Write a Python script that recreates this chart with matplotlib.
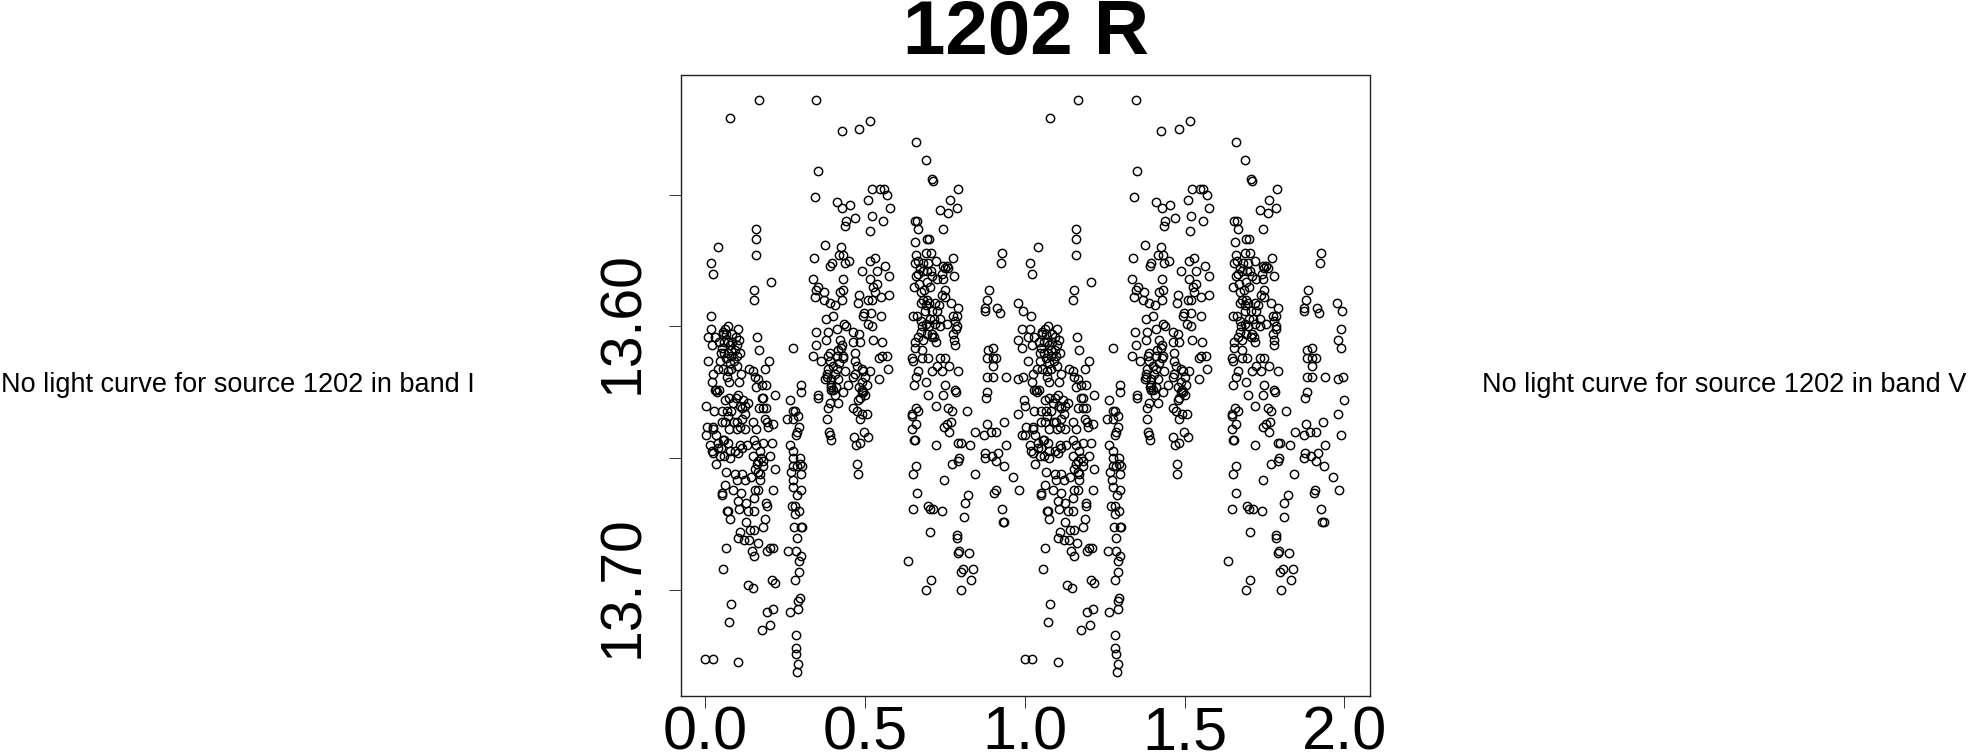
"""
Phase-folded R band light curve for source 1202, plotted over two cycles.
"""

import numpy as np
import matplotlib
matplotlib.use('Agg')
import matplotlib.pyplot as plt
from matplotlib.transforms import ScaledTranslation

plt.rcParams['font.family'] = ['Liberation Sans', 'DejaVu Sans']

source = '1202'
band = 'R'
missing_bands = ['I', 'V']

# first clump, phase 0 to 0.3
phase_a = [.168,.078,.040,.017,.023,.160,.160,.160,.206,.154,.152,.018,.017,.072,.101,.062,.010,.163,.030,.106,.054,.044,.022,.169,.077,.051,.072,.109,.093,.048,.009,.200,.082,.046,.077,.187,.137,.039,.082,.112,.025,.150,.155,.075,.106,.022,.166,.190,.176,.159,.035,.276,.299]
mag_a = [13.514,13.521,13.570,13.576,13.580,13.563,13.567,13.573,13.583,13.586,13.590,13.596,13.601,13.600,13.601,13.601,13.604,13.604,13.604,13.605,13.603,13.606,13.607,13.609,13.607,13.608,13.610,13.610,13.609,13.610,13.613,13.613,13.611,13.613,13.614,13.616,13.616,13.616,13.616,13.618,13.618,13.617,13.619,13.621,13.621,13.621,13.620,13.622,13.622,13.623,13.624,13.608,13.622]

phase_b = [.218,.265,.299,.030,.044,.038,.176,.182,.075,.103,.119,.135,.001,.062,.088,.028,.051,.067,.082,.114,.124,.168,.182,.190,.275,.281,.291,.257,.275,.004,.025,.062,.051,.098,.114,.150,.187,.194,.213,.293,.197,.075,.100,.125,.159,.025,.286,.283,.001,.033,.015,.056,.072,.152,.182,.208,.109,.265,.041,.020,.077,.093,.114,.025,.046,.103,.150,.171,.202,.275,.077,.166,.182,.275,.296,.032,.161,.182,.218,.275,.286,.296,.302,.267,.065,.093,.114,.155,.171,.298]
mag_b = [13.626,13.628,13.625,13.624,13.624,13.625,13.627,13.627,13.627,13.626,13.628,13.629,13.630,13.628,13.629,13.632,13.632,13.632,13.632,13.631,13.633,13.631,13.631,13.631,13.632,13.632,13.634,13.635,13.635,13.638,13.638,13.636,13.636,13.636,13.635,13.636,13.635,13.636,13.637,13.638,13.638,13.639,13.639,13.639,13.639,13.639,13.640,13.641,13.641,13.641,13.645,13.643,13.644,13.643,13.644,13.644,13.645,13.645,13.646,13.647,13.647,13.647,13.646,13.648,13.649,13.648,13.649,13.647,13.649,13.647,13.650,13.651,13.651,13.650,13.650,13.652,13.652,13.653,13.654,13.653,13.653,13.652,13.653,13.655,13.655,13.656,13.656,13.654,13.656,13.656]

phase_c = [.098,.124,.142,.171,.273,.062,.275,.088,.213,.299,.051,.051,.112,.155,.166,.152,.288,.103,.126,.190,.192,.270,.281,.106,.072,.069,.135,.152,.294,.281,.077,.187,.127,.279,.298,.302,.140,.153,.182,.109,.286,.103,.122,.138,.164,.064,.211,.202,.194,.145,.153,.260,.284,.298,.293,.056,.293,.281,.208,.218,.133,.148,.296,.291,.080,.213,.291,.194,.265,.074,.204,.176,.283,.283,.284,.000,.023,.103,.291,.288]
mag_c = [13.658,13.658,13.657,13.658,13.658,13.660,13.661,13.662,13.662,13.662,13.663,13.664,13.663,13.662,13.662,13.665,13.664,13.666,13.667,13.667,13.668,13.668,13.668,13.669,13.670,13.670,13.670,13.670,13.670,13.671,13.673,13.673,13.674,13.676,13.676,13.676,13.677,13.677,13.676,13.678,13.680,13.680,13.681,13.681,13.682,13.684,13.684,13.684,13.685,13.685,13.687,13.685,13.685,13.687,13.689,13.692,13.693,13.696,13.696,13.697,13.698,13.699,13.703,13.704,13.705,13.707,13.707,13.708,13.708,13.712,13.713,13.715,13.717,13.722,13.724,13.726,13.726,13.727,13.728,13.731]

# second clump, phase 0.33 to 0.58
phase_d = [.347,.427,.482,.516,.352,.342,.412,.429,.454,.522,.547,.558,.570,.510,.577,.521,.469,.439,.436,.557,.516,.376,.425,.340,.417,.432,.451,.437,.396,.391,.515,.531,.563,.489,.536,.575,.336,.430,.515,.536,.354,.348,.372,.432,.421,.526,.480,.576,.531,.342,.371,.390,.406,.429,.477,.510,.521,.551,.378,.401,.497,.520,.550,.495]
mag_d = [13.514,13.526,13.525,13.522,13.541,13.551,13.553,13.555,13.554,13.548,13.548,13.548,13.550,13.552,13.555,13.558,13.559,13.560,13.562,13.560,13.564,13.569,13.570,13.574,13.573,13.573,13.575,13.576,13.576,13.577,13.575,13.574,13.577,13.579,13.579,13.581,13.582,13.582,13.582,13.584,13.585,13.586,13.587,13.586,13.587,13.585,13.588,13.588,13.587,13.589,13.590,13.591,13.592,13.590,13.591,13.590,13.590,13.589,13.597,13.596,13.595,13.595,13.596,13.596]

phase_e = [.411,.434,.439,.509,.521,.345,.383,.463,.481,.379,.421,.524,.348,.463,.484,.554,.429,.425,.390,.336,.385,.411,.432,.468,.552,.568,.544,.361,.468,.474,.383,.411,.489,.571,.380,.437,.515,.468,.495,.380,.395,.416,.544,.448,.463,.492,.392,.352,.352,.416,.390,.383,.381,.432,.495,.500,.479,.463,.474,.492,.507,.484,.387,.390,.393,.498,.510,.465,.484,.471,.476,.477,.401,.406,.489,.484,.395]
mag_e = [13.601,13.599,13.600,13.599,13.600,13.602,13.602,13.602,13.603,13.605,13.605,13.605,13.607,13.606,13.606,13.606,13.607,13.608,13.610,13.611,13.611,13.611,13.611,13.610,13.611,13.611,13.612,13.613,13.613,13.615,13.616,13.616,13.616,13.616,13.618,13.617,13.617,13.618,13.617,13.619,13.620,13.620,13.620,13.622,13.619,13.624,13.623,13.626,13.627,13.629,13.629,13.631,13.635,13.625,13.625,13.626,13.628,13.631,13.632,13.633,13.633,13.635,13.640,13.641,13.643,13.640,13.642,13.642,13.644,13.645,13.652,13.656,13.624,13.626,13.625,13.627,13.624]

# third clump, phase 0.63 to 0.83
phase_f = [.660,.690,.708,.712,.790,.765,.736,.787,.761,.655,.664,.666,.745,.657,.693,.701,.661,.690,.705,.774,.655,.682,.698,.722,.745,.755,.750,.667,.661,.695,.779,.724,.745,.693,.653,.703,.750,.674,.740,.750,.680,.693,.674,.769,.792,.651,.664,.688,.708,.724,.776,.787,.703,.735,.719,.755,.787,.677,.674,.693,.776,.667,.708,.716,.656,.779,.721,.781,.656,.679,.648,.679,.696,.735,.750,.651,.764,.724,.710,.740,.792,.667,.661,.652,.692,.750,.781]
mag_f = [13.530,13.537,13.544,13.545,13.548,13.552,13.556,13.555,13.557,13.560,13.560,13.563,13.563,13.568,13.567,13.567,13.573,13.572,13.572,13.574,13.576,13.576,13.576,13.575,13.577,13.577,13.578,13.580,13.581,13.579,13.581,13.582,13.582,13.583,13.585,13.585,13.586,13.587,13.588,13.589,13.590,13.590,13.591,13.591,13.593,13.596,13.596,13.594,13.594,13.594,13.596,13.596,13.597,13.597,13.599,13.599,13.600,13.600,13.602,13.603,13.603,13.604,13.604,13.604,13.606,13.605,13.606,13.607,13.608,13.609,13.612,13.612,13.612,13.612,13.612,13.613,13.615,13.615,13.617,13.617,13.617,13.617,13.619,13.622,13.621,13.622,13.624]

phase_g = [.698,.721,.745,.784,.659,.667,.648,.648,.761,.771,.768,.661,.747,.755,.648,.764,.653,.656,.721,.792,.799,.795,.792,.771,.661,.651,.747,.662,.696,.703,.714,.741,.649,.704,.787,.787,.795,.792,.635,.705,.692]
mag_g = [13.626,13.630,13.626,13.625,13.631,13.632,13.633,13.634,13.631,13.632,13.636,13.637,13.638,13.637,13.639,13.640,13.643,13.643,13.645,13.644,13.644,13.650,13.651,13.652,13.653,13.656,13.658,13.663,13.668,13.669,13.669,13.670,13.669,13.678,13.679,13.680,13.685,13.686,13.689,13.696,13.700]

# sparse points, phase 0.8 to 1
phase_h = [.818,.881,.845,.873,.893,.910,.829,.876,.917,.896,.875,.910,.844,.823,.909,.905,.812,.810,.826,.808,.799,.839,.832,.801,.883,.877,.887,.881,.874,.874,.914,.921,.928,.925,.978,.993,.991,.980,.990,.900,.884,.882,.899,.910,.900,.882,.899,.941,.980,.995,.999,.979,.934,.990,.941,.936,.964,.982,.928,.931,.936]
mag_h = [13.632,13.637,13.640,13.641,13.640,13.640,13.645,13.648,13.648,13.649,13.650,13.651,13.656,13.664,13.662,13.663,13.667,13.672,13.686,13.692,13.693,13.692,13.696,13.700,13.625,13.627,13.586,13.590,13.593,13.594,13.593,13.595,13.572,13.576,13.591,13.594,13.601,13.605,13.608,13.608,13.609,13.612,13.612,13.612,13.615,13.619,13.619,13.619,13.620,13.619,13.628,13.633,13.636,13.641,13.645,13.653,13.657,13.662,13.669,13.674,13.674]

# overlapping points inside the dense parts, estimated
phase_i = [.055,.066,.085,.095,.060,.070,.085,.100,.060,.082,.098,.065,.090,.055,.070,.100,.068,.125,.095,.108,.070,.090,.110,.040,.050,.060,.130,.160,.175,.165,.060]
mag_i = [13.602,13.603,13.603,13.604,13.606,13.606,13.606,13.607,13.610,13.609,13.611,13.612,13.613,13.616,13.617,13.615,13.619,13.630,13.627,13.630,13.634,13.636,13.638,13.644,13.646,13.643,13.645,13.645,13.650,13.655,13.649]

phase_j = [.390,.400,.405,.420,.395,.410,.375,.490,.500,.480,.505,.430,.415,.665,.672,.680,.705,.710,.670,.685,.690,.700,.720,.730,.715,.700,.690,.710,.680,.675,.735,.780,.785,.760,.742]
mag_j = [13.613,13.615,13.618,13.614,13.622,13.623,13.620,13.621,13.619,13.623,13.622,13.612,13.609,13.575,13.578,13.579,13.579,13.581,13.584,13.586,13.592,13.591,13.591,13.592,13.597,13.600,13.599,13.603,13.605,13.598,13.600,13.598,13.601,13.578,13.580]

phase = np.array(phase_a + phase_b + phase_c + phase_d + phase_e + phase_f + phase_g + phase_h + phase_i + phase_j)
mag = np.array(mag_a + mag_b + mag_c + mag_d + mag_e + mag_f + mag_g + mag_h + mag_i + mag_j)

W, H = 1969, 753
fig = plt.figure(figsize=(W/100, H/100), dpi=100)
ax = fig.add_axes([680.5/W, 1-696/H, 689.5/W, 620.5/H])

# folded curve is shown twice
ax.plot(np.r_[phase, phase+1], np.r_[mag, mag], ls='none', marker='o', ms=6.0,
        mfc='none', mec='black', mew=1.05)

ax.set_xlim(-0.0776, 2.0804)
ax.set_ylim(13.740, 13.5049)

ax.set_xticks([0, 0.5, 1.0, 1.5, 2.0])
ax.set_xticklabels(['0.0', '0.5', '1.0', '1.5', '2.0'], fontsize=44, va='baseline')
ax.set_yticks([13.55, 13.60, 13.65, 13.70])
ax.set_yticklabels(['', '13.60', '', '13.70'], fontsize=41, rotation=90, va='center')
ax.tick_params(axis='both', length=8.5, width=0.7, color='#333333')
ax.tick_params(axis='x', pad=30.2)
ax.tick_params(axis='y', pad=13.4)

# nudge the rotated labels so they centre on their ticks
nudge = ScaledTranslation(0, 0.04, fig.dpi_scale_trans)
for label in ax.get_yticklabels():
	label.set_transform(label.get_transform() + nudge)

for s in ax.spines.values():
	s.set_linewidth(1.0)
	s.set_color('#222222')

fig.text(1026/W, 1-34.5/H, f'{source} {band}', fontsize=55, fontweight='bold', ha='center', va='center')

fig.text(1/W, 1-385/H, f'No light curve for source {source} in band {missing_bands[0]}',
         fontsize=19.5, ha='left', va='center')
fig.text(1482/W, 1-385/H, f'No light curve for source {source} in band {missing_bands[1]}',
         fontsize=19.5, ha='left', va='center')

fig.savefig('out.png', dpi=100)
